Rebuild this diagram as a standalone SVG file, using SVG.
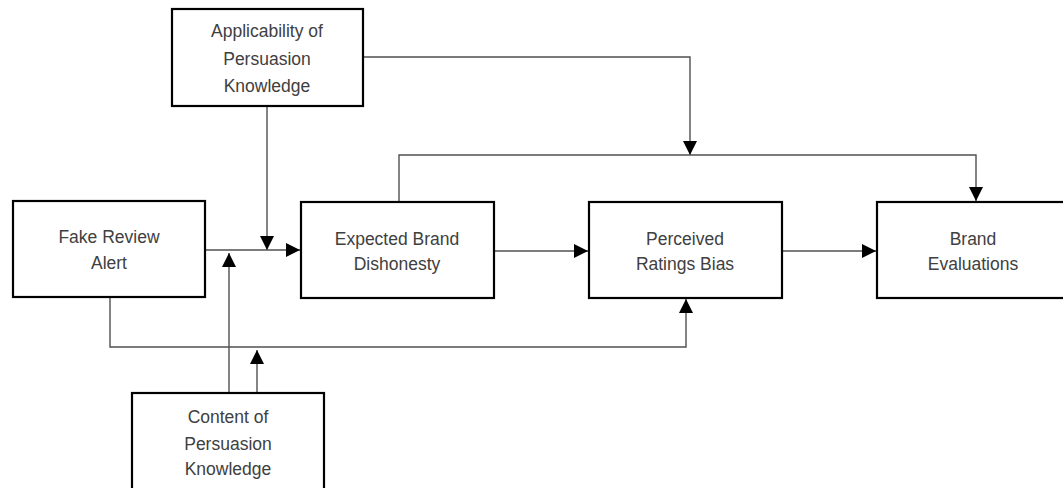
<svg xmlns="http://www.w3.org/2000/svg" width="1063" height="488" viewBox="0 0 1063 488">
<style>
.box{fill:#fff;stroke:#000;stroke-width:2.2}
.t{font-family:"Liberation Sans",Arial,sans-serif;font-size:17.5px;fill:#404040;text-anchor:middle}
.c{fill:none;stroke:#505050;stroke-width:1.4}
</style>
<defs>
<marker id="ah" markerWidth="14" markerHeight="14" refX="14" refY="7" orient="auto" markerUnits="userSpaceOnUse">
<path d="M0,0 L14,7 L0,14 Z" fill="#000"/>
</marker>
</defs>
<rect width="1063" height="488" fill="#fff"/>
<g id="connectors">
<path class="c" d="M363,57 H690 V155" marker-end="url(#ah)"/>
<path class="c" d="M267,106 V250" marker-end="url(#ah)"/>
<path class="c" d="M205,250 H300" marker-end="url(#ah)"/>
<path class="c" d="M229,393 V253" marker-end="url(#ah)"/>
<path class="c" d="M257,393 V350" marker-end="url(#ah)"/>
<path class="c" d="M110,297 V347 H686 V299" marker-end="url(#ah)"/>
<path class="c" d="M399,202 V155 H976 V201" marker-end="url(#ah)"/>
<path class="c" d="M494,251 H588" marker-end="url(#ah)"/>
<path class="c" d="M782,251 H876" marker-end="url(#ah)"/>
</g>
<g id="applicability">
<rect class="box" x="172" y="9" width="191" height="97"/>
<text class="t" x="267" y="37">Applicability of</text>
<text class="t" x="267" y="65">Persuasion</text>
<text class="t" x="267" y="92">Knowledge</text>
</g>
<g id="fake-review">
<rect class="box" x="13" y="201" width="192" height="96"/>
<text class="t" x="109" y="243">Fake Review</text>
<text class="t" x="109" y="269">Alert</text>
</g>
<g id="expected">
<rect class="box" x="301" y="202" width="193" height="96"/>
<text class="t" x="397" y="245">Expected Brand</text>
<text class="t" x="397" y="270">Dishonesty</text>
</g>
<g id="perceived">
<rect class="box" x="589" y="202" width="193" height="96"/>
<text class="t" x="685" y="245">Perceived</text>
<text class="t" x="685" y="270">Ratings Bias</text>
</g>
<g id="brand">
<rect class="box" x="877" y="202" width="193" height="96"/>
<text class="t" x="973" y="245">Brand</text>
<text class="t" x="973" y="270">Evaluations</text>
</g>
<g id="content">
<rect class="box" x="132" y="393" width="192" height="100"/>
<text class="t" x="228" y="423">Content of</text>
<text class="t" x="228" y="450">Persuasion</text>
<text class="t" x="228" y="475">Knowledge</text>
</g>
</svg>
